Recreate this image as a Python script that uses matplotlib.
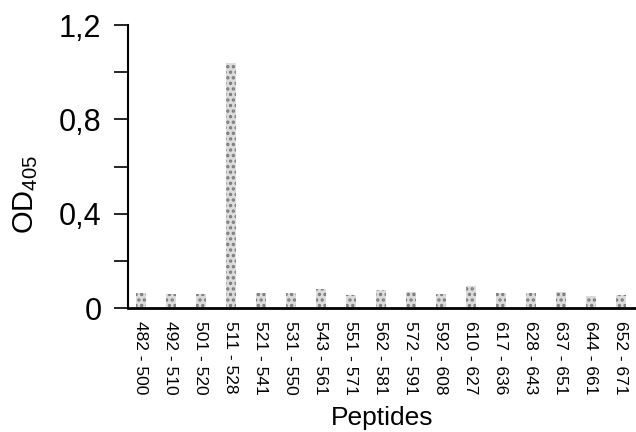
import numpy as np
import matplotlib.pyplot as plt

plt.rcParams['font.family'] = ['Liberation Sans', 'DejaVu Sans']
plt.rcParams['mathtext.fontset'] = 'custom'
plt.rcParams['mathtext.rm'] = 'Liberation Sans'
plt.rcParams['hatch.linewidth'] = 1.6

# peptide ranges and OD405 readings
peptides = ['482 - 500', '492 - 510', '501 - 520', '511 - 528', '521 - 541',
            '531 - 550', '543 - 561', '551 - 571', '562 - 581', '572 - 591',
            '592 - 608', '610 - 627', '617 - 636', '628 - 643', '637 - 651',
            '644 - 661', '652 - 671']
od405 = [0.065, 0.06, 0.06, 1.04, 0.065, 0.065, 0.08, 0.055, 0.075, 0.07,
         0.06, 0.095, 0.065, 0.065, 0.07, 0.05, 0.055]
yticks = [0, 0.4, 0.8, 1.2]
ytick_labels = ['0', '0,4', '0,8', '1,2']

fig = plt.figure(figsize=(6.36, 4.32), dpi=100)
ax = fig.add_axes([0.201, 0.287, 0.799, 0.655])

x = np.arange(len(peptides))
ax.bar(x, od405, width=0.33, color='#dcdcdc', edgecolor='#7a7a7a',
       hatch='...', linewidth=0)

ax.set_xlim(-0.43, 16.5)
ax.set_ylim(0, 1.2)
ax.spines['top'].set_visible(False)
ax.spines['right'].set_visible(False)
ax.spines['left'].set_linewidth(1.5)
ax.spines['bottom'].set_linewidth(2)

ax.set_yticks(yticks)
ax.set_yticklabels(ytick_labels, fontsize=22)
ax.set_yticks([0.2, 0.6, 1.0], minor=True)
ax.tick_params(axis='y', which='both', length=10, width=1.2, pad=9)

ax.set_xticks(x)
ax.set_xticklabels(peptides, rotation=-90, fontsize=12.5)
ax.tick_params(axis='x', length=0, pad=9)

ax.set_xlabel('Peptides', fontsize=19, labelpad=8)
ax.set_ylabel(r'OD$_{\mathrm{405}}$', fontsize=21)
ax.yaxis.set_label_coords(-0.172, 0.4)

plt.savefig('out.png', dpi=100)
